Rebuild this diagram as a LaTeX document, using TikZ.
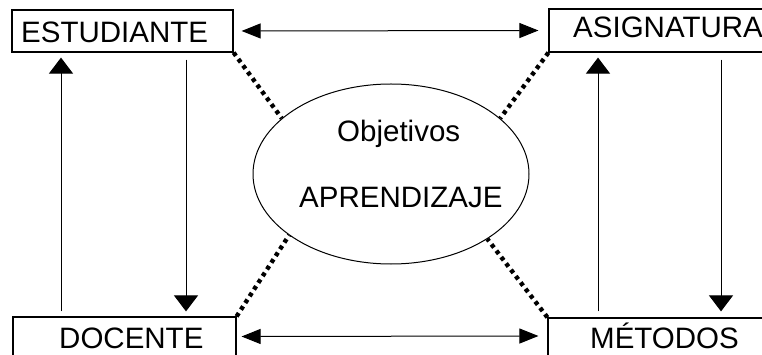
\documentclass[tikz,border=0pt]{standalone}
\usepackage{fontspec}
\setmainfont{Liberation Sans}
\usetikzlibrary{arrows.meta,shapes.geometric}
\tikzset{
  box/.style={draw, line width=1.2pt, rectangle, inner sep=0pt},
  lbl/.style={anchor=base west, inner sep=0pt, font=\fontsize{29.5}{31}\selectfont},
  hlink/.style={line width=1pt, {Triangle[length=19pt,width=15pt]}-{Triangle[length=19pt,width=15pt]}},
  vlink/.style={line width=1pt, -{Triangle[length=16pt,width=24pt]}},
  tie/.style={line width=4.4pt, dash pattern=on 4pt off 4pt},
}
\begin{document}
\begin{tikzpicture}[x=1pt,y=-1pt]
  \useasboundingbox (0,0) rectangle (762,355);
  \clip (0,0) rectangle (762,355);

  % the four corner boxes
  \node[box, minimum width=221pt, minimum height=42pt] (est) at (122.5,31) {};
  \node[box, minimum width=226pt, minimum height=43pt] (asig) at (662,30.5) {};
  \node[box, minimum width=223pt, minimum height=53pt] (doc) at (124.5,343.5) {};
  \node[box, minimum width=227pt, minimum height=52pt] (met) at (661.5,344) {};

  \node[lbl] (estT) at (21,43) {ESTUDIANTE};
  \node[lbl] (asigT) at (573,38) {ASIGNATURA};
  \node[lbl] (docT) at (59,348) {DOCENTE};
  \node[lbl] (metT) at (590,348) {MÉTODOS};

  % central ellipse
  \node[draw, line width=1pt, ellipse, minimum width=276pt, minimum height=180pt, inner sep=0pt] (obj) at (391,174) {};
  \node[lbl] (objT1) at (337,142) {Objetivos};
  \node[lbl] (objT2) at (299,208) {APRENDIZAJE};

  % horizontal double arrows
  \draw[hlink] ([xshift=8pt]est.east) -- ([xshift=-10pt]asig.west);
  \draw[hlink] ([xshift=5pt,yshift=7pt]doc.east) -- ([xshift=-9pt,yshift=8pt]met.west);

  % vertical arrows
  \draw[vlink] ([xshift=-63.5pt,yshift=5pt]doc.north) -- ([xshift=-61.5pt,yshift=-5pt]est.south);
  \draw[vlink] ([xshift=63.5pt,yshift=-7pt]est.south) -- ([xshift=61.5pt,yshift=5pt]doc.north);
  \draw[vlink] ([xshift=-63.5pt,yshift=6pt]met.north) -- ([xshift=-64pt,yshift=-5pt]asig.south);
  \draw[vlink] ([xshift=59pt,yshift=-7pt]asig.south) -- ([xshift=59.5pt,yshift=6pt]met.north);

  % dotted ties to the ellipse
  \draw[tie] (est.south east) -- (obj.153);
  \draw[tie] (asig.south west) -- (obj.27);
  \draw[tie] (doc.north east) -- (obj.211);
  \draw[tie] (met.north west) -- (obj.326);
\end{tikzpicture}
\end{document}
